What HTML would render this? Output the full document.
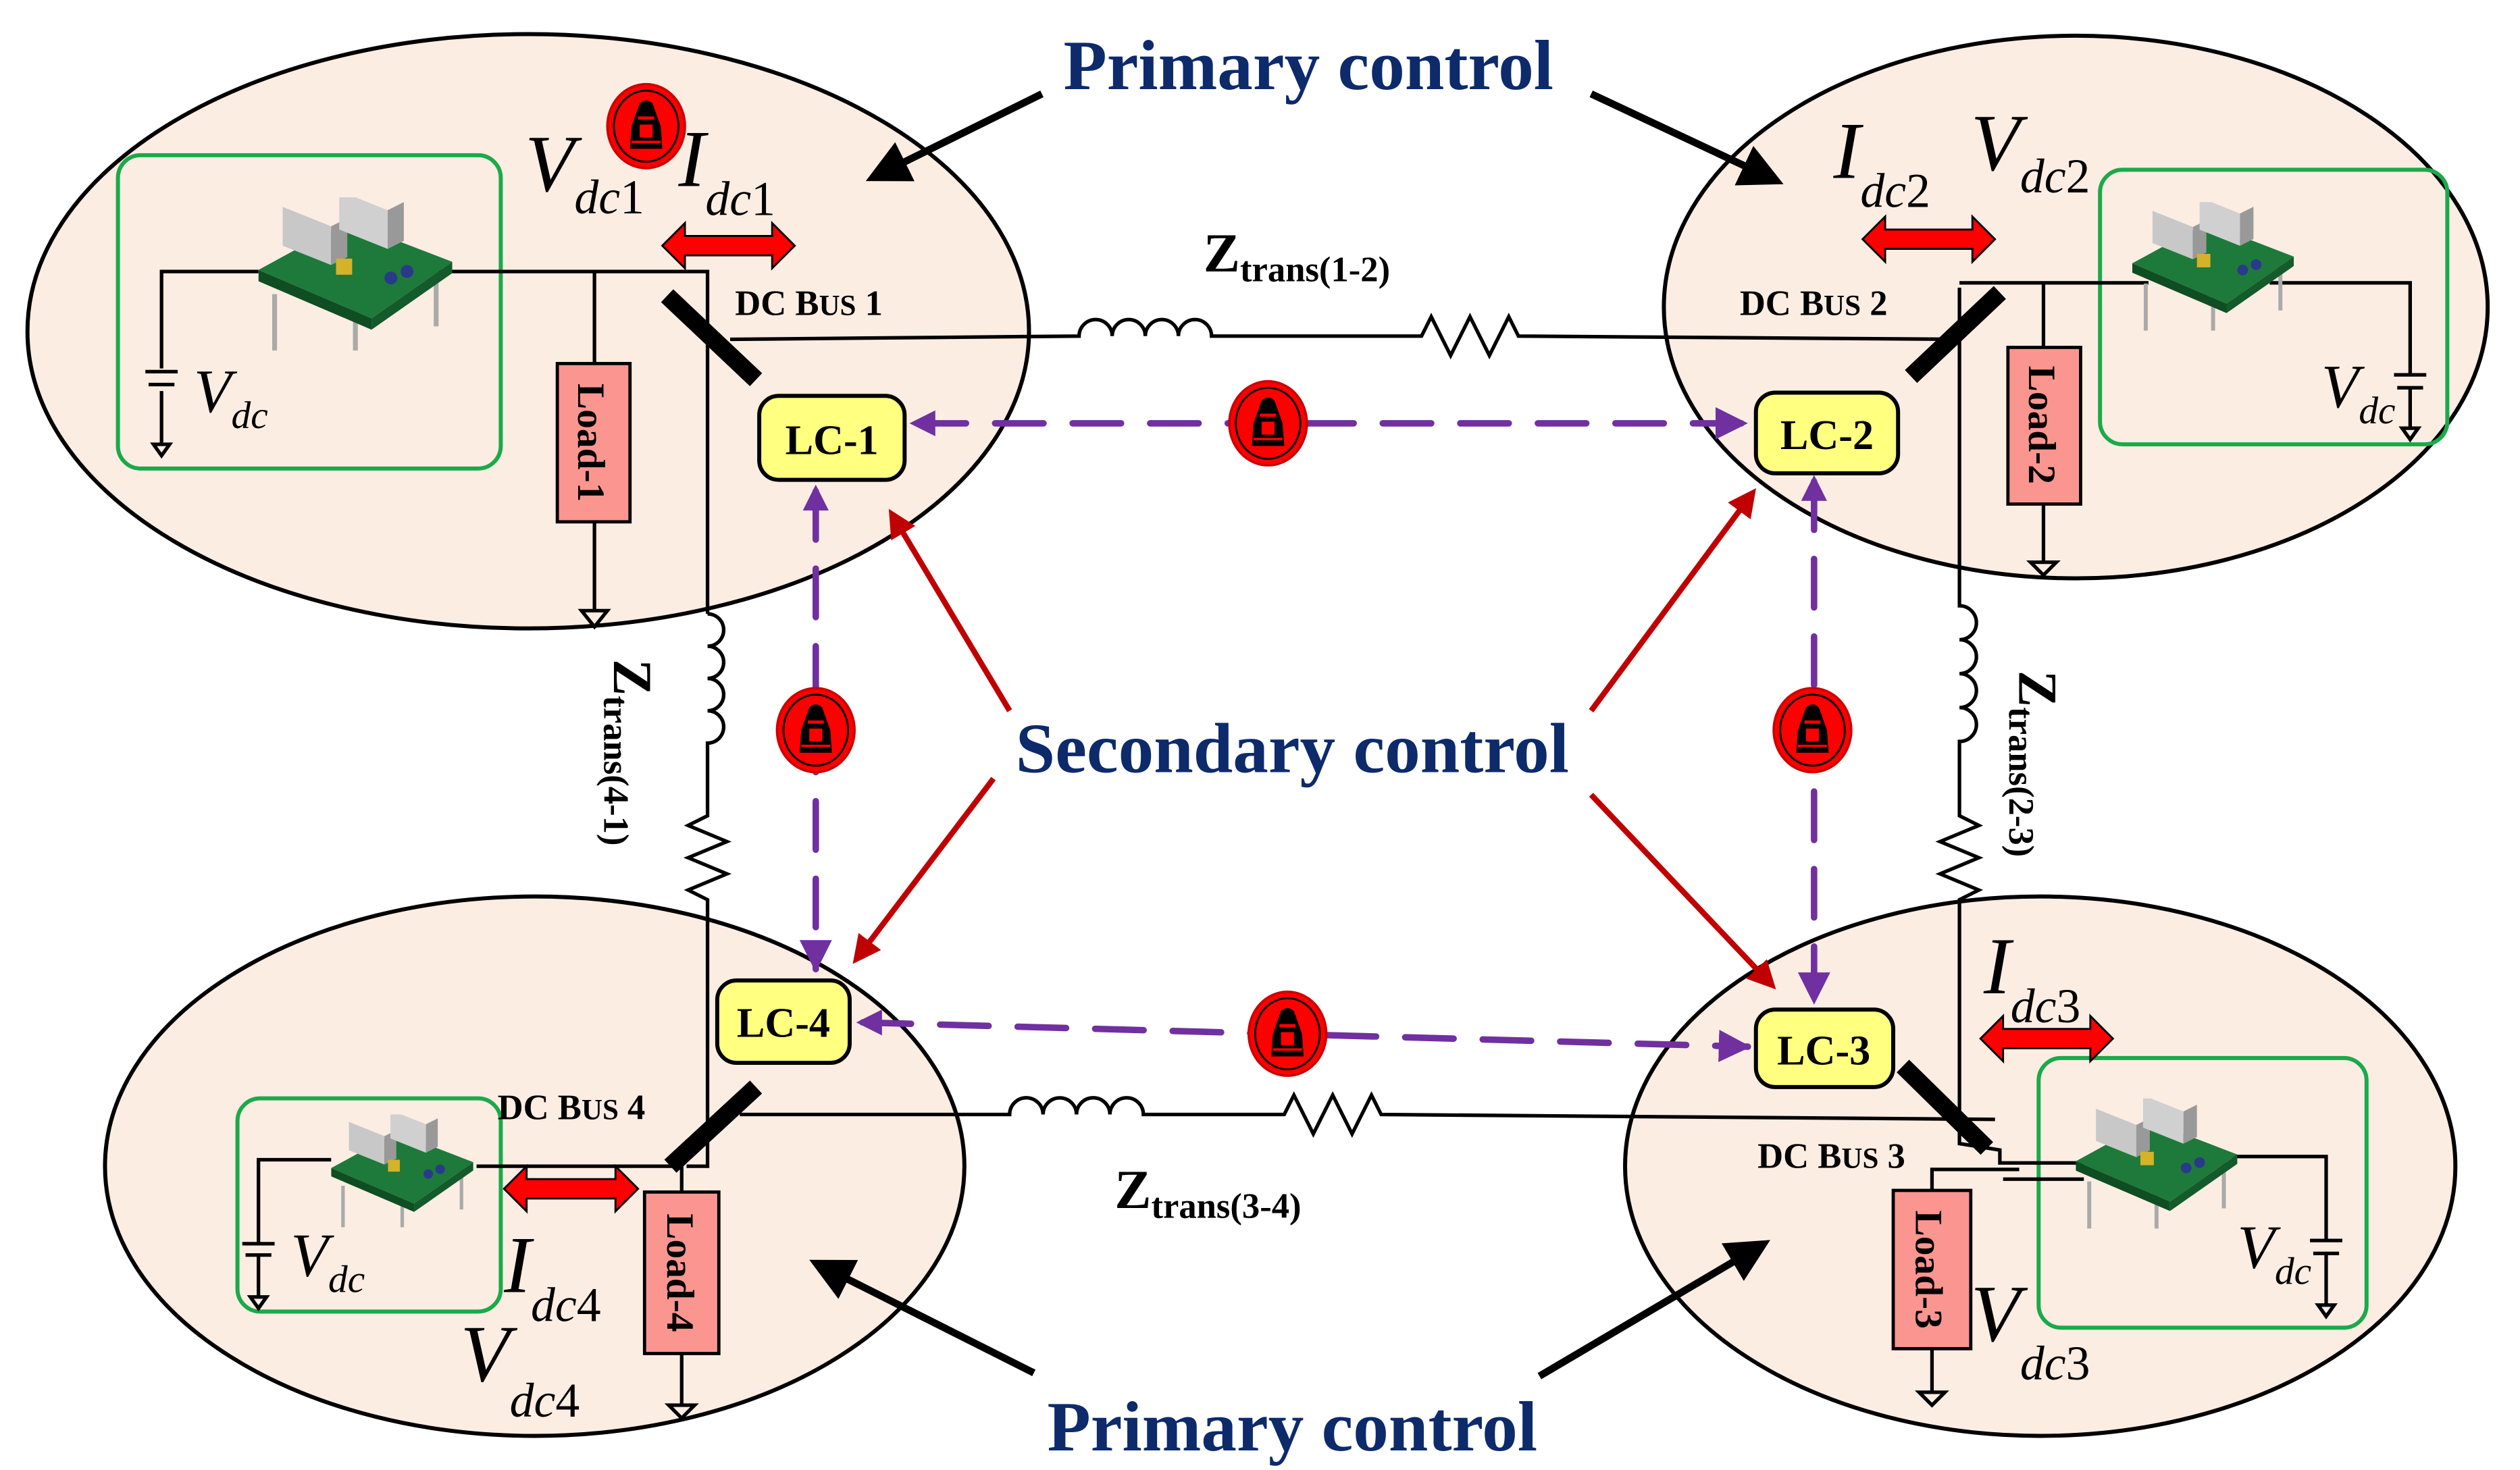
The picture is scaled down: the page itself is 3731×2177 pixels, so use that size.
<!DOCTYPE html>
<html><head><meta charset="utf-8"><style>
html,body{margin:0;padding:0;background:#fff}
svg{display:block}
text{font-family:"Liberation Serif",serif}
.t{font-weight:bold;fill:#0d2a6b;font-size:44px}
.v{font-style:italic;font-size:50px}
.s{font-style:italic;font-size:30px}
.n{font-style:normal;font-size:30px}
.b{font-weight:bold;font-size:22px}
.lc{font-weight:bold;font-size:26px}
</style></head><body>
<svg width="3731" height="2177" viewBox="0 0 1560 910" xmlns="http://www.w3.org/2000/svg">
<defs>
<marker id="ab" markerWidth="6" markerHeight="6" refX="5" refY="3" orient="auto" markerUnits="strokeWidth"><path d="M0,0 L6,3 L0,6 z" fill="#000"/></marker>
<marker id="ar" markerWidth="5" markerHeight="5" refX="4" refY="2.5" orient="auto" markerUnits="strokeWidth"><path d="M0,0 L5,2.5 L0,5 z" fill="#c00000"/></marker>
<marker id="ap" markerWidth="5" markerHeight="5" refX="4.5" refY="2.5" orient="auto" markerUnits="strokeWidth"><path d="M0,0 L5,2.5 L0,5 z" fill="#7030a0"/></marker>
<symbol id="hk" viewBox="-25 -27 50 54">
<ellipse cx="0" cy="0" rx="24" ry="26" fill="#f00" stroke="#c00" stroke-width="1.5"/>
<ellipse cx="0" cy="0" rx="20" ry="22" fill="none" stroke="#000" stroke-width="1.2"/>
<path d="M-10 14 L-9 0 L-4 -14 Q0 -18 4 -14 L9 0 L10 14 Z" fill="#000"/>
<rect x="-4" y="-1" width="8" height="8" fill="#f00"/>
<rect x="-9" y="9" width="18" height="1.5" fill="#f00"/>
<rect x="-5" y="-6" width="10" height="2" fill="#f00"/>
</symbol>
<symbol id="cv" viewBox="0 0 120 95">
<path d="M10 95 L10 60 M110 80 L110 45 M60 95 L60 70" stroke="#aaa" stroke-width="3"/>
<polygon points="0,45 70,75 120,40 55,15" fill="#1e7a3a"/>
<polygon points="0,45 70,75 70,82 0,52" fill="#0f4d22"/>
<polygon points="70,75 120,40 120,47 70,82" fill="#145a2a"/>
<polygon points="15,30 45,42 45,18 15,6" fill="#c8c8c8"/>
<polygon points="45,42 55,37 55,13 45,18" fill="#999"/>
<polygon points="50,20 80,32 80,8 50,-4" fill="#d0d0d0"/>
<polygon points="80,32 90,27 90,3 80,8" fill="#999"/>
<rect x="48" y="38" width="10" height="10" fill="#d4b22a"/>
<circle cx="82" cy="50" r="4" fill="#2a3a8a"/><circle cx="92" cy="46" r="4" fill="#2a3a8a"/>
</symbol>
</defs>

<ellipse cx="327" cy="205" rx="310" ry="184" fill="#fcede3" stroke="#000" stroke-width="2.5"/>
<ellipse cx="1285" cy="190" rx="255" ry="168" fill="#fcede3" stroke="#000" stroke-width="2.5"/>
<ellipse cx="1263" cy="722" rx="257" ry="167" fill="#fcede3" stroke="#000" stroke-width="2.5"/>
<ellipse cx="331" cy="722" rx="266" ry="167" fill="#fcede3" stroke="#000" stroke-width="2.5"/>

<g fill="none" stroke="#1aaa4a" stroke-width="2.5">
<rect x="73" y="96" width="237" height="194" rx="14"/>
<rect x="1300" y="105" width="215" height="170" rx="14"/>
<rect x="1262" y="655" width="203" height="167" rx="14"/>
<rect x="147" y="680" width="163" height="132" rx="14"/>
</g>

<g fill="none" stroke="#000" stroke-width="2.2">
<path d="M160 168 L100 168 L100 228 M100 242 L100 275"/>
<path d="M90 230 L110 230 M92 238 L108 238"/>
<path d="M270 168 L438 168 L438 380"/>
<path d="M368 168 L368 225 M368 323 L368 378"/>
<path d="M360 378 L376 378 L368 388 Z"/>
<path d="M95 275 L105 275 L100 282 Z"/>
<path d="M452 210 L668 208 a10 10 0 0 1 20.5 0 a10 10 0 0 1 20.5 0 a10 10 0 0 1 20.5 0 a10 10 0 0 1 20.5 0 L880 208 l6 -12 l12 24 l12 -24 l12 24 l12 -24 l6 12 L1213 210"/>
<path d="M1213 178 L1213 375 a10 10 0 0 1 0 21 a10 10 0 0 1 0 21 a10 10 0 0 1 0 21 a10 10 0 0 1 0 21 L1213 505 l12 6 l-24 10 l24 10 l-24 10 l24 10 l-12 6 L1213 708 L1238 712 L1238 720 L1290 720"/>
<path d="M1213 175 L1330 175 M1405 175 L1492 175 L1492 232 M1492 240 L1492 265"/>
<path d="M1482 232 L1502 232 M1484 240 L1500 240"/>
<path d="M1487 265 L1497 265 L1492 272 Z"/>
<path d="M1265 175 L1265 215 M1265 312 L1265 348"/>
<path d="M1257 348 L1273 348 L1265 356 Z"/>
<path d="M438 380 a10 10 0 0 1 0 20 a10 10 0 0 1 0 20 a10 10 0 0 1 0 20 a10 10 0 0 1 0 20 L438 505 l-12 6 l24 10 l-24 10 l24 10 l-24 10 l12 6 L438 722 L425 722"/>
<path d="M458 690 L625 690 a10 10 0 0 1 20.7 0 a10 10 0 0 1 20.7 0 a10 10 0 0 1 20.7 0 a10 10 0 0 1 20.7 0 L795 690 l6 -12 l12 24 l12 -24 l12 24 l12 -24 l6 12 L1235 693"/>
<path d="M295 722 L422 722 M422 722 L422 738 M422 838 L422 870"/>
<path d="M414 870 L430 870 L422 878 Z"/>
<path d="M205 718 L160 718 L160 770 M160 778 L160 803"/>
<path d="M150 770 L170 770 M152 777 L168 777"/>
<path d="M155 803 L165 803 L160 810 Z"/>
<path d="M1240 730 L1290 730 M1196 737 L1196 724 L1250 724 M1196 835 L1196 862"/>
<path d="M1188 862 L1204 862 L1196 870 Z"/>
<path d="M1355 716 L1440 716 L1440 768 M1440 776 L1440 808"/>
<path d="M1430 768 L1450 768 M1432 776 L1448 776"/>
<path d="M1435 808 L1445 808 L1440 815 Z"/>
</g>

<use href="#cv" x="160" y="122" width="120" height="95"/>
<use href="#cv" x="1320" y="125" width="100" height="80"/>
<use href="#cv" x="1285" y="680" width="100" height="82"/>
<use href="#cv" x="205" y="690" width="88" height="70"/>

<g fill="#fa9590" stroke="#000" stroke-width="2">
<rect x="345" y="225" width="45" height="98"/>
<rect x="1243" y="215" width="45" height="97"/>
<rect x="1172" y="737" width="48" height="98"/>
<rect x="399" y="738" width="46" height="100"/>
</g>
<text transform="translate(358,274) rotate(90)" text-anchor="middle" font-weight="bold" font-size="24">Load-1</text>
<text transform="translate(1256,263) rotate(90)" text-anchor="middle" font-weight="bold" font-size="24">Load-2</text>
<text transform="translate(1186,786) rotate(90)" text-anchor="middle" font-weight="bold" font-size="24">Load-3</text>
<text transform="translate(413,788) rotate(90)" text-anchor="middle" font-weight="bold" font-size="24">Load-4</text>

<g stroke="#000" stroke-width="11">
<line x1="413" y1="183" x2="468" y2="235"/>
<line x1="1183" y1="233" x2="1238" y2="181"/>
<line x1="1178" y1="660" x2="1230" y2="711"/>
<line x1="415" y1="722" x2="468" y2="673"/>
</g>

<text x="455" y="195" class="b">DC B<tspan font-size="18">US</tspan> 1</text>
<text x="1077" y="195" class="b">DC B<tspan font-size="18">US</tspan> 2</text>
<text x="1088" y="723" class="b">DC B<tspan font-size="18">US</tspan> 3</text>
<text x="308" y="693" class="b">DC B<tspan font-size="18">US</tspan> 4</text>

<text x="745" y="168" font-weight="bold" font-size="34">Z<tspan font-size="22" dy="6">trans(1-2)</tspan></text>
<text x="690" y="748" font-weight="bold" font-size="34">Z<tspan font-size="22" dy="6">trans(3-4)</tspan></text>
<text transform="translate(380,408) rotate(90)" font-weight="bold" font-size="34">Z<tspan font-size="22" dy="6">trans(4-1)</tspan></text>
<text transform="translate(1250,415) rotate(90)" font-weight="bold" font-size="34">Z<tspan font-size="22" dy="6">trans(2-3)</tspan></text>

<text x="325" y="118" class="v">V<tspan class="s" dy="14">dc</tspan><tspan class="n">1</tspan></text>
<text x="420" y="115" class="v">I<tspan class="s" dy="18">dc</tspan><tspan class="n">1</tspan></text>
<text x="1135" y="110" class="v">I<tspan class="s" dy="18">dc</tspan><tspan class="n">2</tspan></text>
<text x="1220" y="105" class="v">V<tspan class="s" dy="14">dc</tspan><tspan class="n">2</tspan></text>
<text x="1228" y="615" class="v">I<tspan class="s" dy="18">dc</tspan><tspan class="n">3</tspan></text>
<text x="1220" y="830" class="v">V<tspan class="s" dy="24">dc</tspan><tspan class="n">3</tspan></text>
<text x="312" y="800" class="v">I<tspan class="s" dy="18">dc</tspan><tspan class="n">4</tspan></text>
<text x="285" y="855" class="v">V<tspan class="s" dy="22">dc</tspan><tspan class="n">4</tspan></text>
<text x="120" y="255" font-style="italic" font-size="38">V<tspan font-size="24" dy="10">dc</tspan></text>
<text x="1437" y="252" font-style="italic" font-size="38">V<tspan font-size="24" dy="10">dc</tspan></text>
<text x="1385" y="785" font-style="italic" font-size="38">V<tspan font-size="24" dy="10">dc</tspan></text>
<text x="180" y="790" font-style="italic" font-size="38">V<tspan font-size="24" dy="10">dc</tspan></text>

<g fill="#f00" stroke="#000" stroke-width="1.2">
<path d="M410 152 l14 -14 v8 h54 v-8 l14 14 l-14 14 v-8 h-54 v8 z"/>
<path d="M1153 148 l14 -14 v8 h54 v-8 l14 14 l-14 14 v-8 h-54 v8 z"/>
<path d="M1226 643 l14 -14 v8 h54 v-8 l14 14 l-14 14 v-8 h-54 v8 z"/>
<path d="M312 736 l14 -14 v8 h55 v-8 l14 14 l-14 14 v-8 h-55 v8 z"/>
</g>

<g stroke="#7030a0" stroke-width="4" stroke-dasharray="30 18" fill="none" stroke-linecap="round" marker-end="url(#ap)">
<line x1="568" y1="262" x2="1080" y2="262"/>
<line x1="505" y1="304" x2="505" y2="600"/>
<line x1="1123" y1="298" x2="1123" y2="620"/>
<line x1="534" y1="633" x2="1082" y2="648"/>
</g>
<g fill="#7030a0">
<path d="M563 262 l16 -8 v16 z"/>
<path d="M505 300 l-8 16 h16 z"/>
<path d="M1123 294 l-8 16 h16 z"/>
<path d="M530 633 l16 -8 v16 z"/>
</g>

<g stroke="#c00000" stroke-width="3.5" marker-end="url(#ar)">
<line x1="625" y1="440" x2="552" y2="318"/>
<line x1="985" y1="440" x2="1085" y2="305"/>
<line x1="615" y1="482" x2="530" y2="594"/>
<line x1="985" y1="492" x2="1097" y2="610"/>
</g>

<g stroke="#000" stroke-width="4.5" marker-end="url(#ab)">
<line x1="645" y1="58" x2="540" y2="110"/>
<line x1="985" y1="58" x2="1100" y2="112"/>
<line x1="953" y1="852" x2="1092" y2="770"/>
<line x1="640" y1="850" x2="505" y2="782"/>
</g>

<g fill="#ffff80" stroke="#000" stroke-width="2.5">
<rect x="470" y="245" width="90" height="52" rx="12"/>
<rect x="1087" y="243" width="88" height="50" rx="12"/>
<rect x="1087" y="625" width="85" height="48" rx="12"/>
<rect x="444" y="607" width="82" height="51" rx="12"/>
</g>
<text x="515" y="281" class="lc" text-anchor="middle">LC-1</text>
<text x="1131" y="278" class="lc" text-anchor="middle">LC-2</text>
<text x="1129" y="659" class="lc" text-anchor="middle">LC-3</text>
<text x="485" y="642" class="lc" text-anchor="middle">LC-4</text>

<use href="#hk" x="375" y="51" width="50" height="54"/>
<use href="#hk" x="760" y="235" width="50" height="54"/>
<use href="#hk" x="480" y="425" width="50" height="54"/>
<use href="#hk" x="1097" y="425" width="50" height="54"/>
<use href="#hk" x="772" y="613" width="50" height="54"/>

<text x="810" y="55" class="t" text-anchor="middle">Primary control</text>
<text x="800" y="478" class="t" text-anchor="middle">Secondary control</text>
<text x="800" y="898" class="t" text-anchor="middle">Primary control</text>
</svg>
</body></html>
